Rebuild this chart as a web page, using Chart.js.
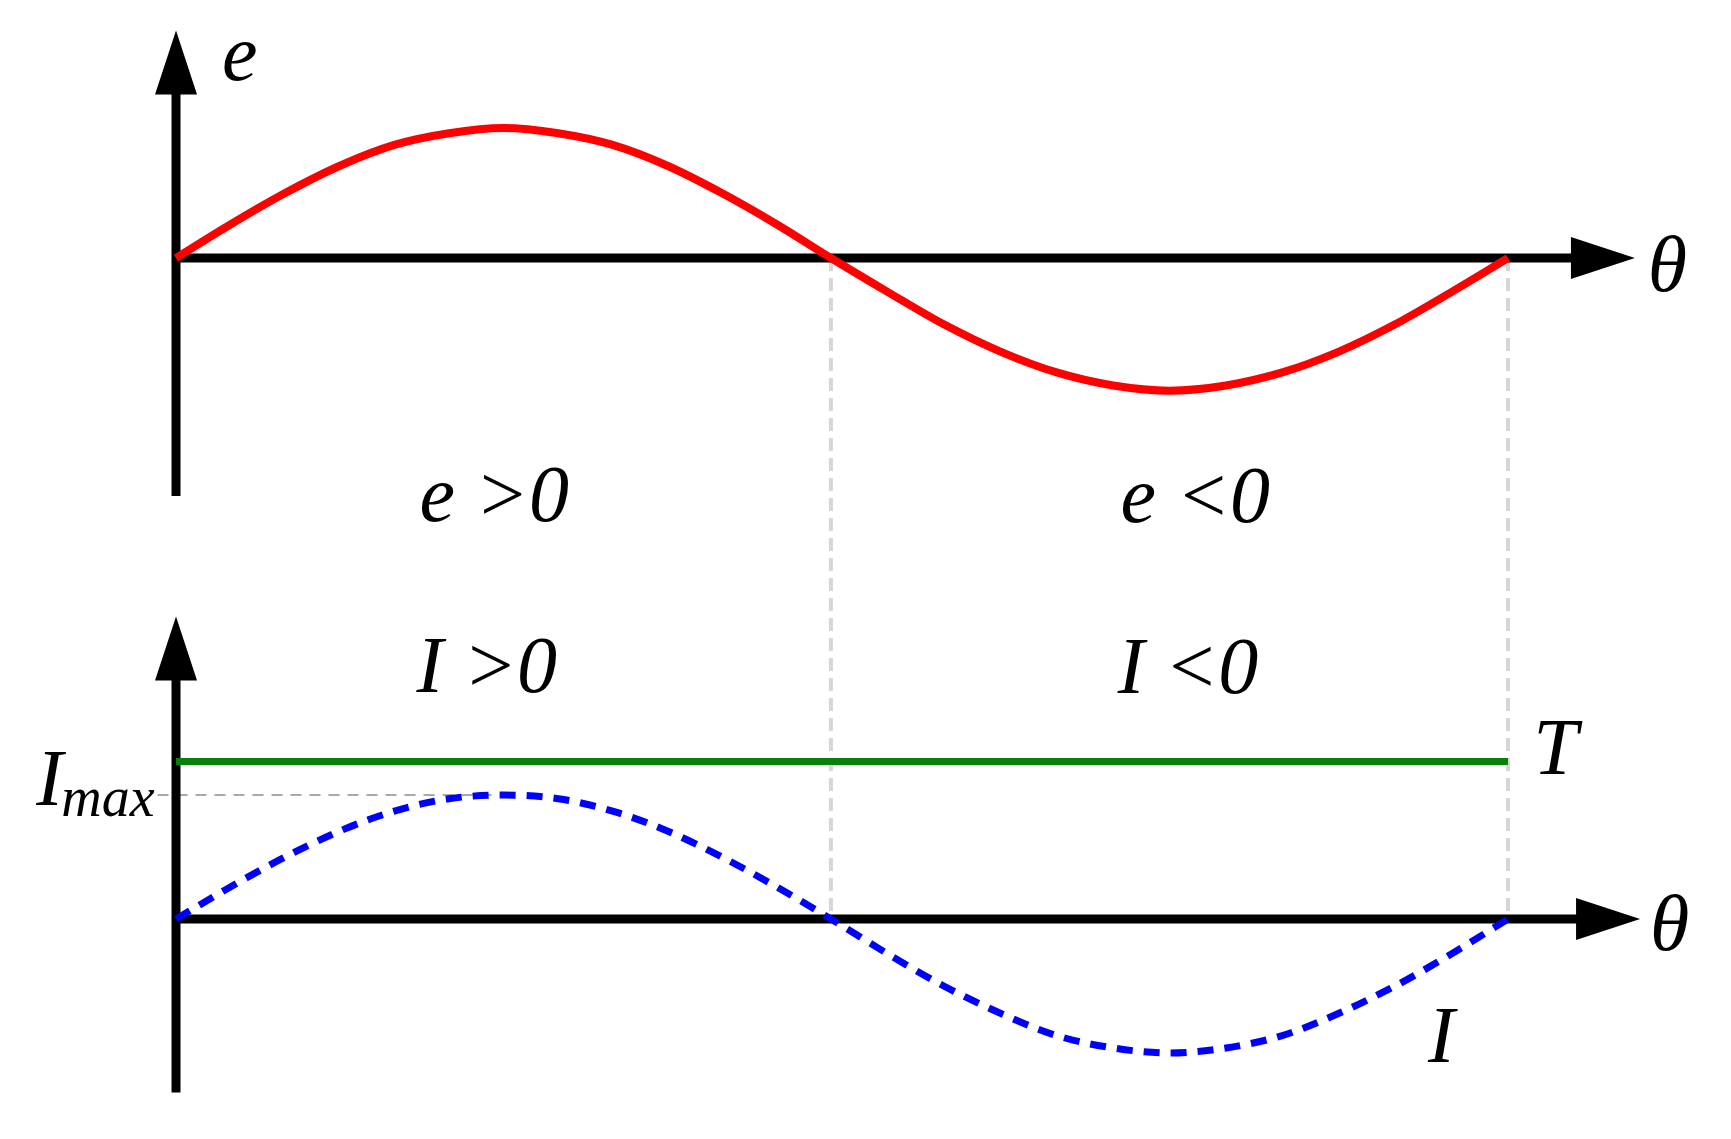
<!DOCTYPE html>
<html>
<head>
<meta charset="utf-8">
<script src="https://cdn.jsdelivr.net/npm/chart.js@4/dist/chart.umd.min.js"></script>
<style>
  html, body { margin: 0; padding: 0; background: #fff; }
  canvas { display: block; }
</style>
</head>
<body>
<canvas id="waveChart" width="1731" height="1139"></canvas>
<script>
// angle samples (degrees) and the two waveforms
const theta = [0, 14.8, 29.5, 44.3, 59, 73.8, 88.5, 103.3, 118, 132.8, 147.5, 162.3, 177,
  192.3, 207.5, 222.8, 238, 253.3, 268.5, 283.8, 299, 314.3, 329.5, 344.8, 360];
const eValues = [0, 0.26, 0.5, 0.71, 0.87, 0.96, 1.0, 0.96, 0.87, 0.71, 0.5, 0.26, 0,
  -0.26, -0.51, -0.72, -0.88, -0.98, -1.02, -0.98, -0.88, -0.72, -0.51, -0.26, 0];
const iValues = [0, 0.26, 0.5, 0.71, 0.87, 0.97, 1.0, 0.97, 0.87, 0.71, 0.5, 0.26, 0,
  -0.28, -0.54, -0.76, -0.94, -1.04, -1.08, -1.04, -0.94, -0.76, -0.54, -0.28, 0];
const tTheta = [0, 360];
const tValues = [1.27, 1.27];
const iMax = 1.0;
const guideThetas = [177, 360];

// text annotations: [text, theta, value, axis, align]
const labels = [
  ['e', 12.4, 1.37, 'yE', 'left'],
  ['e >0', 86, -2.02, 'yE', 'center'],
  ['e <0', 275.5, -2.03, 'yE', 'center'],
  ['I >0', 84, 1.83, 'yI', 'center'],
  ['I <0', 273.5, 1.82, 'yI', 'center'],
  ['T', 366.8, 1.17, 'yI', 'left'],
  ['I', 338.4, -1.15, 'yI', 'left'],
  ['\u03b8', 397.8, -0.25, 'yE', 'left'],
  ['\u03b8', 398.4, -0.25, 'yI', 'left']
];

function pts(xs, ys) {
  return xs.map((t, i) => ({ x: t, y: ys[i] }));
}

function arrow(ctx, x0, y0, x1, y1) {
  var len = 64, half = 21;
  var dx = x1 - x0, dy = y1 - y0;
  var d = Math.sqrt(dx * dx + dy * dy);
  var ux = dx / d, uy = dy / d;
  var bx = x1 - ux * len, by = y1 - uy * len;
  ctx.beginPath();
  ctx.moveTo(x0, y0);
  ctx.lineTo(bx + ux * 2, by + uy * 2);
  ctx.stroke();
  ctx.beginPath();
  ctx.moveTo(x1, y1);
  ctx.lineTo(bx - uy * half, by + ux * half);
  ctx.lineTo(bx + uy * half, by - ux * half);
  ctx.closePath();
  ctx.fill();
}

const overlay = {
  id: 'overlay',
  beforeDatasetsDraw(chart) {
    const ctx = chart.ctx;
    const x = chart.scales.x, yE = chart.scales.yE, yI = chart.scales.yI;
    ctx.save();

    // vertical guides between the two plots
    ctx.strokeStyle = '#d6d6d6';
    ctx.lineWidth = 4;
    ctx.setLineDash([13, 7]);
    guideThetas.forEach(t => {
      ctx.beginPath();
      ctx.moveTo(x.getPixelForValue(t), yE.getPixelForValue(0));
      ctx.lineTo(x.getPixelForValue(t), yI.getPixelForValue(0));
      ctx.stroke();
    });

    // Imax reference
    ctx.strokeStyle = '#a9a9a9';
    ctx.lineWidth = 2;
    ctx.setLineDash([11, 8]);
    ctx.beginPath();
    ctx.moveTo(x.getPixelForValue(-5), yI.getPixelForValue(iMax));
    ctx.lineTo(x.getPixelForValue(87), yI.getPixelForValue(iMax));
    ctx.stroke();

    // axes
    ctx.setLineDash([]);
    ctx.strokeStyle = '#000';
    ctx.fillStyle = '#000';
    ctx.lineWidth = 9;
    var x0 = x.getPixelForValue(0);
    arrow(ctx, x0, yE.getPixelForValue(-1.83), x0, yE.getPixelForValue(1.75));
    arrow(ctx, x0 - 4, yE.getPixelForValue(0), x.getPixelForValue(394.3), yE.getPixelForValue(0));
    arrow(ctx, x0, yI.getPixelForValue(-1.40), x0, yI.getPixelForValue(2.44));
    arrow(ctx, x0 - 4, yI.getPixelForValue(0), x.getPixelForValue(395.7), yI.getPixelForValue(0));
    ctx.restore();
  },
  afterDatasetsDraw(chart) {
    const ctx = chart.ctx;
    const x = chart.scales.x;
    ctx.save();
    ctx.fillStyle = '#000';
    ctx.textBaseline = 'alphabetic';
    ctx.font = 'italic 80px "Liberation Serif", "DejaVu Serif", serif';
    labels.forEach(l => {
      ctx.textAlign = l[4];
      ctx.fillText(l[0], x.getPixelForValue(l[1]), chart.scales[l[3]].getPixelForValue(l[2]));
    });
    // I_max with subscript
    var yI = chart.scales.yI;
    ctx.textAlign = 'left';
    ctx.fillText('I', x.getPixelForValue(-37.8), yI.getPixelForValue(0.92));
    ctx.font = 'italic 56px "Liberation Serif", "DejaVu Serif", serif';
    ctx.fillText('max', x.getPixelForValue(-31), yI.getPixelForValue(0.83));
    ctx.restore();
  }
};

new Chart(document.getElementById('waveChart'), {
  type: 'scatter',
  data: {
    datasets: [
      {
        label: 'T',
        data: pts(tTheta, tValues),
        yAxisID: 'yI',
        showLine: true,
        borderColor: '#0a800a',
        borderWidth: 7,
        pointRadius: 0
      },
      {
        label: 'I',
        data: pts(theta, iValues),
        yAxisID: 'yI',
        showLine: true,
        borderColor: '#0000ff',
        borderWidth: 7,
        borderDash: [16, 11],
        cubicInterpolationMode: 'monotone',
        pointRadius: 0
      },
      {
        label: 'e',
        data: pts(theta, eValues),
        yAxisID: 'yE',
        showLine: true,
        borderColor: '#ff0000',
        borderWidth: 8,
        cubicInterpolationMode: 'monotone',
        pointRadius: 0
      }
    ]
  },
  options: {
    responsive: false,
    animation: false,
    devicePixelRatio: 1,
    layout: { padding: 0 },
    plugins: {
      legend: { display: false },
      tooltip: { enabled: false },
      title: { display: false }
    },
    scales: {
      x: { type: 'linear', min: -47.57, max: 420.27, display: false },
      yE: { type: 'linear', min: -6.777, max: 1.985, display: false },
      yI: { type: 'linear', min: -1.774, max: 7.411, display: false }
    }
  },
  plugins: [overlay]
});
</script>
</body>
</html>
